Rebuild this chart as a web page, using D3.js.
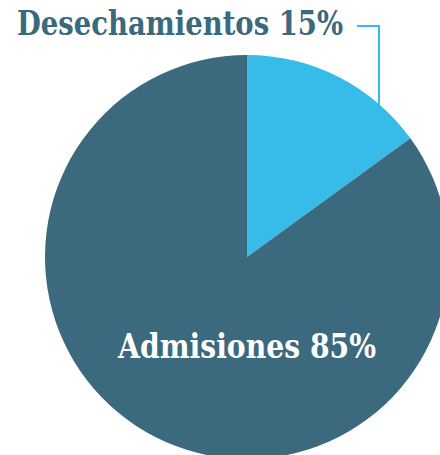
<!DOCTYPE html>
<html>
<head>
<meta charset="utf-8">
<script src="https://cdn.jsdelivr.net/npm/d3@7"></script>
<style>
  html, body { margin: 0; padding: 0; background: #fff; }
  svg { display: block; }
</style>
</head>
<body>
<svg></svg>
<script>
var categories = ['Desechamientos', 'Admisiones'];
var values = [15, 85];
var colors = ['#37bbe9', '#3b697d'];

var width = 440;
var height = 455;
var radius = 202;
var cx = 247, cy = 257;

var data = categories.map((c, i) => ({ name: c, value: values[i] }));

var svg = d3.select('svg')
    .attr('width', width)
    .attr('height', height);

var arcs = d3.pie()
    .value(d => d.value)
    .sort(null)
    (data);

var path = d3.arc()
    .innerRadius(0)
    .outerRadius(radius);

var chart = svg.append('g')
    .attr('transform', 'translate(' + cx + ',' + cy + ')');

chart.selectAll('.arc')
    .data(arcs)
  .enter()
  .append('path')
    .classed('arc', true)
    .attr('fill', (d, i) => colors[i])
    .attr('d', path);

var font = '"DejaVu Serif", serif';

// small slice label, outside top left
svg.append('text')
    .attr('x', 17)
    .attr('y', 35)
    .attr('font-family', font)
    .attr('font-weight', 'bold')
    .attr('font-size', 34)
    .attr('textLength', 326)
    .attr('lengthAdjust', 'spacingAndGlyphs')
    .attr('fill', '#3b697d')
    .text(arcs[0].data.name + ' ' + arcs[0].data.value + '%');

// leader line into the small slice
var lx = 379;
var ly = cy - Math.sqrt(radius * radius - (lx - cx) * (lx - cx));
svg.append('path')
    .attr('d', 'M357,26H' + lx + 'V' + (ly + 2))
    .attr('fill', 'none')
    .attr('stroke', colors[0])
    .attr('stroke-width', 2);

// big slice label, inside
svg.append('text')
    .attr('x', 118)
    .attr('y', 358)
    .attr('font-family', font)
    .attr('font-weight', 'bold')
    .attr('font-size', 33)
    .attr('textLength', 258)
    .attr('lengthAdjust', 'spacingAndGlyphs')
    .attr('fill', '#fff')
    .text(arcs[1].data.name + ' ' + arcs[1].data.value + '%');
</script>
</body>
</html>
